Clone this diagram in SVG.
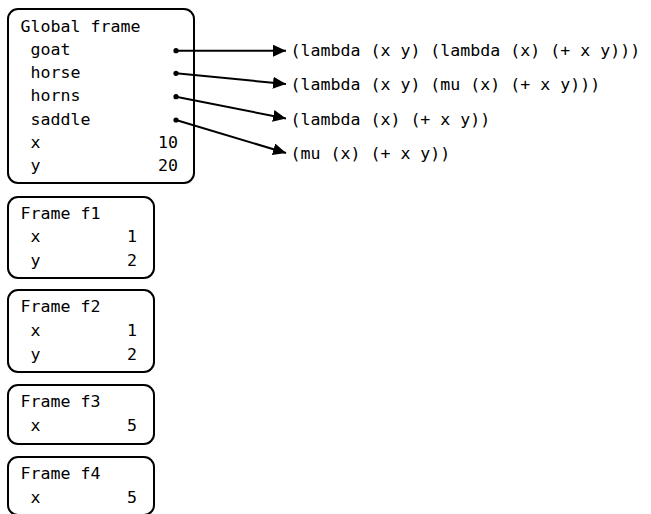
<svg xmlns="http://www.w3.org/2000/svg" width="651" height="514" viewBox="0 0 651 514">
<style>
  .box { fill: #fff; stroke: #000; stroke-width: 2; }
  text { font-family: "DejaVu Sans Mono", "Liberation Mono", monospace; font-size: 16.6px; fill: #000; }
  .val { text-anchor: end; }
  .conn { stroke: #000; stroke-width: 2; fill: none; marker-end: url(#arrow); }
  .dot { fill: #000; }
</style>
<defs>
  <marker id="arrow" markerUnits="userSpaceOnUse" markerWidth="14" markerHeight="12" viewBox="0 0 14 12" refX="13" refY="6" orient="auto">
    <path d="M0,0 L13,6 L0,12 Z" fill="#000"/>
  </marker>
</defs>
<rect width="651" height="514" fill="#fff"/>
<g id="global-frame">
  <rect class="box" x="8" y="9" width="186" height="174" rx="10"/>
  <text x="20.5" y="31.5">Global frame</text>
  <text x="30.5" y="54.8">goat</text>
  <text x="30.5" y="78">horse</text>
  <text x="30.5" y="101.4">horns</text>
  <text x="30.5" y="124.7">saddle</text>
  <text x="30.5" y="148">x</text>
  <text class="val" x="178" y="148">10</text>
  <text x="30.5" y="170.5">y</text>
  <text class="val" x="178" y="170.5">20</text>
</g>
<g id="frame-f1">
  <rect class="box" x="8" y="197" width="146" height="81" rx="10"/>
  <text x="20.5" y="218.5">Frame f1</text>
  <text x="30.5" y="242">x</text>
  <text class="val" x="137" y="242">1</text>
  <text x="30.5" y="265.5">y</text>
  <text class="val" x="137" y="265.5">2</text>
</g>
<g id="frame-f2">
  <rect class="box" x="8" y="290" width="146" height="82" rx="10"/>
  <text x="20.5" y="312">Frame f2</text>
  <text x="30.5" y="336">x</text>
  <text class="val" x="137" y="336">1</text>
  <text x="30.5" y="359.5">y</text>
  <text class="val" x="137" y="359.5">2</text>
</g>
<g id="frame-f3">
  <rect class="box" x="8" y="385" width="146" height="59" rx="10"/>
  <text x="20.5" y="407">Frame f3</text>
  <text x="30.5" y="431">x</text>
  <text class="val" x="137" y="431">5</text>
</g>
<g id="frame-f4">
  <rect class="box" x="8" y="457" width="146" height="58" rx="10"/>
  <text x="20.5" y="479">Frame f4</text>
  <text x="30.5" y="502.5">x</text>
  <text class="val" x="137" y="502.5">5</text>
</g>
<g id="expr-goat"><text x="290.5" y="56">(lambda (x y) (lambda (x) (+ x y)))</text></g>
<g id="expr-horse"><text x="290.5" y="90">(lambda (x y) (mu (x) (+ x y)))</text></g>
<g id="expr-horns"><text x="290.5" y="124.5">(lambda (x) (+ x y))</text></g>
<g id="expr-saddle"><text x="290.5" y="159">(mu (x) (+ x y))</text></g>
<g id="connectors">
  <circle class="dot" cx="176" cy="50.7" r="2.6"/>
  <circle class="dot" cx="176" cy="73.3" r="2.6"/>
  <circle class="dot" cx="176" cy="96.7" r="2.6"/>
  <circle class="dot" cx="176" cy="120" r="2.6"/>
  <line class="conn" x1="176" y1="50.7" x2="286" y2="50.7"/>
  <line class="conn" x1="176" y1="73.3" x2="286" y2="84"/>
  <line class="conn" x1="176" y1="96.7" x2="286" y2="118.5"/>
  <line class="conn" x1="176" y1="120" x2="286" y2="153"/>
</g>
</svg>
